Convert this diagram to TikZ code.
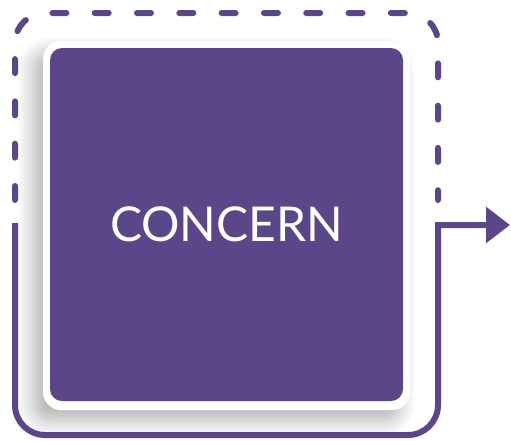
\documentclass[tikz,border=0pt]{standalone}
\usepackage{fontspec}
\setmainfont{Lato}
\usepackage{tikz}
\usetikzlibrary{arrows.meta,calc,positioning,shadows.blur}
\definecolor{Violet}{HTML}{5C468A}
\definecolor{Paper}{HTML}{FFFFFF}

\begin{document}
\begin{tikzpicture}[x=1pt,y=-1pt,
    loopline/.style={draw=Violet,line width=6pt,rounded corners=30pt},
    card/.style={fill=Paper,rounded corners=18pt,minimum width=367pt,minimum height=369pt,inner sep=0pt,
      blur shadow={shadow xshift=-10pt,shadow yshift=-11pt,shadow blur radius=16pt,shadow blur steps=12,shadow opacity=30}},
    tile/.style={fill=Violet,rounded corners=12pt,minimum width=353pt,minimum height=353pt,inner sep=0pt,
      text=white,font=\fontsize{48}{48}\selectfont}]
  \useasboundingbox (0,0) rectangle (511,440);
  \node[card] (card) at (226.5,225.5) {};
  \node[tile] (concern) at (226.5,224.5) {CONCERN};
  \coordinate (dashstart) at (15,200);
  \coordinate (dashend) at (438,200);
  \coordinate (solidstart) at (15,223);
  \coordinate (turn) at (438,225);
  \coordinate (tip) at (510,225);
  \draw[loopline,line cap=round,dash pattern=on 14pt off 28.3pt]
    (dashstart) -- (15,13) -- (438,13) -- (dashend);
  \draw[loopline,-{Triangle[length=24pt,width=35pt]}]
    (solidstart) -- (15,435) -- (438,435) [sharp corners] -- (turn) -- (tip);
\end{tikzpicture}
\end{document}
